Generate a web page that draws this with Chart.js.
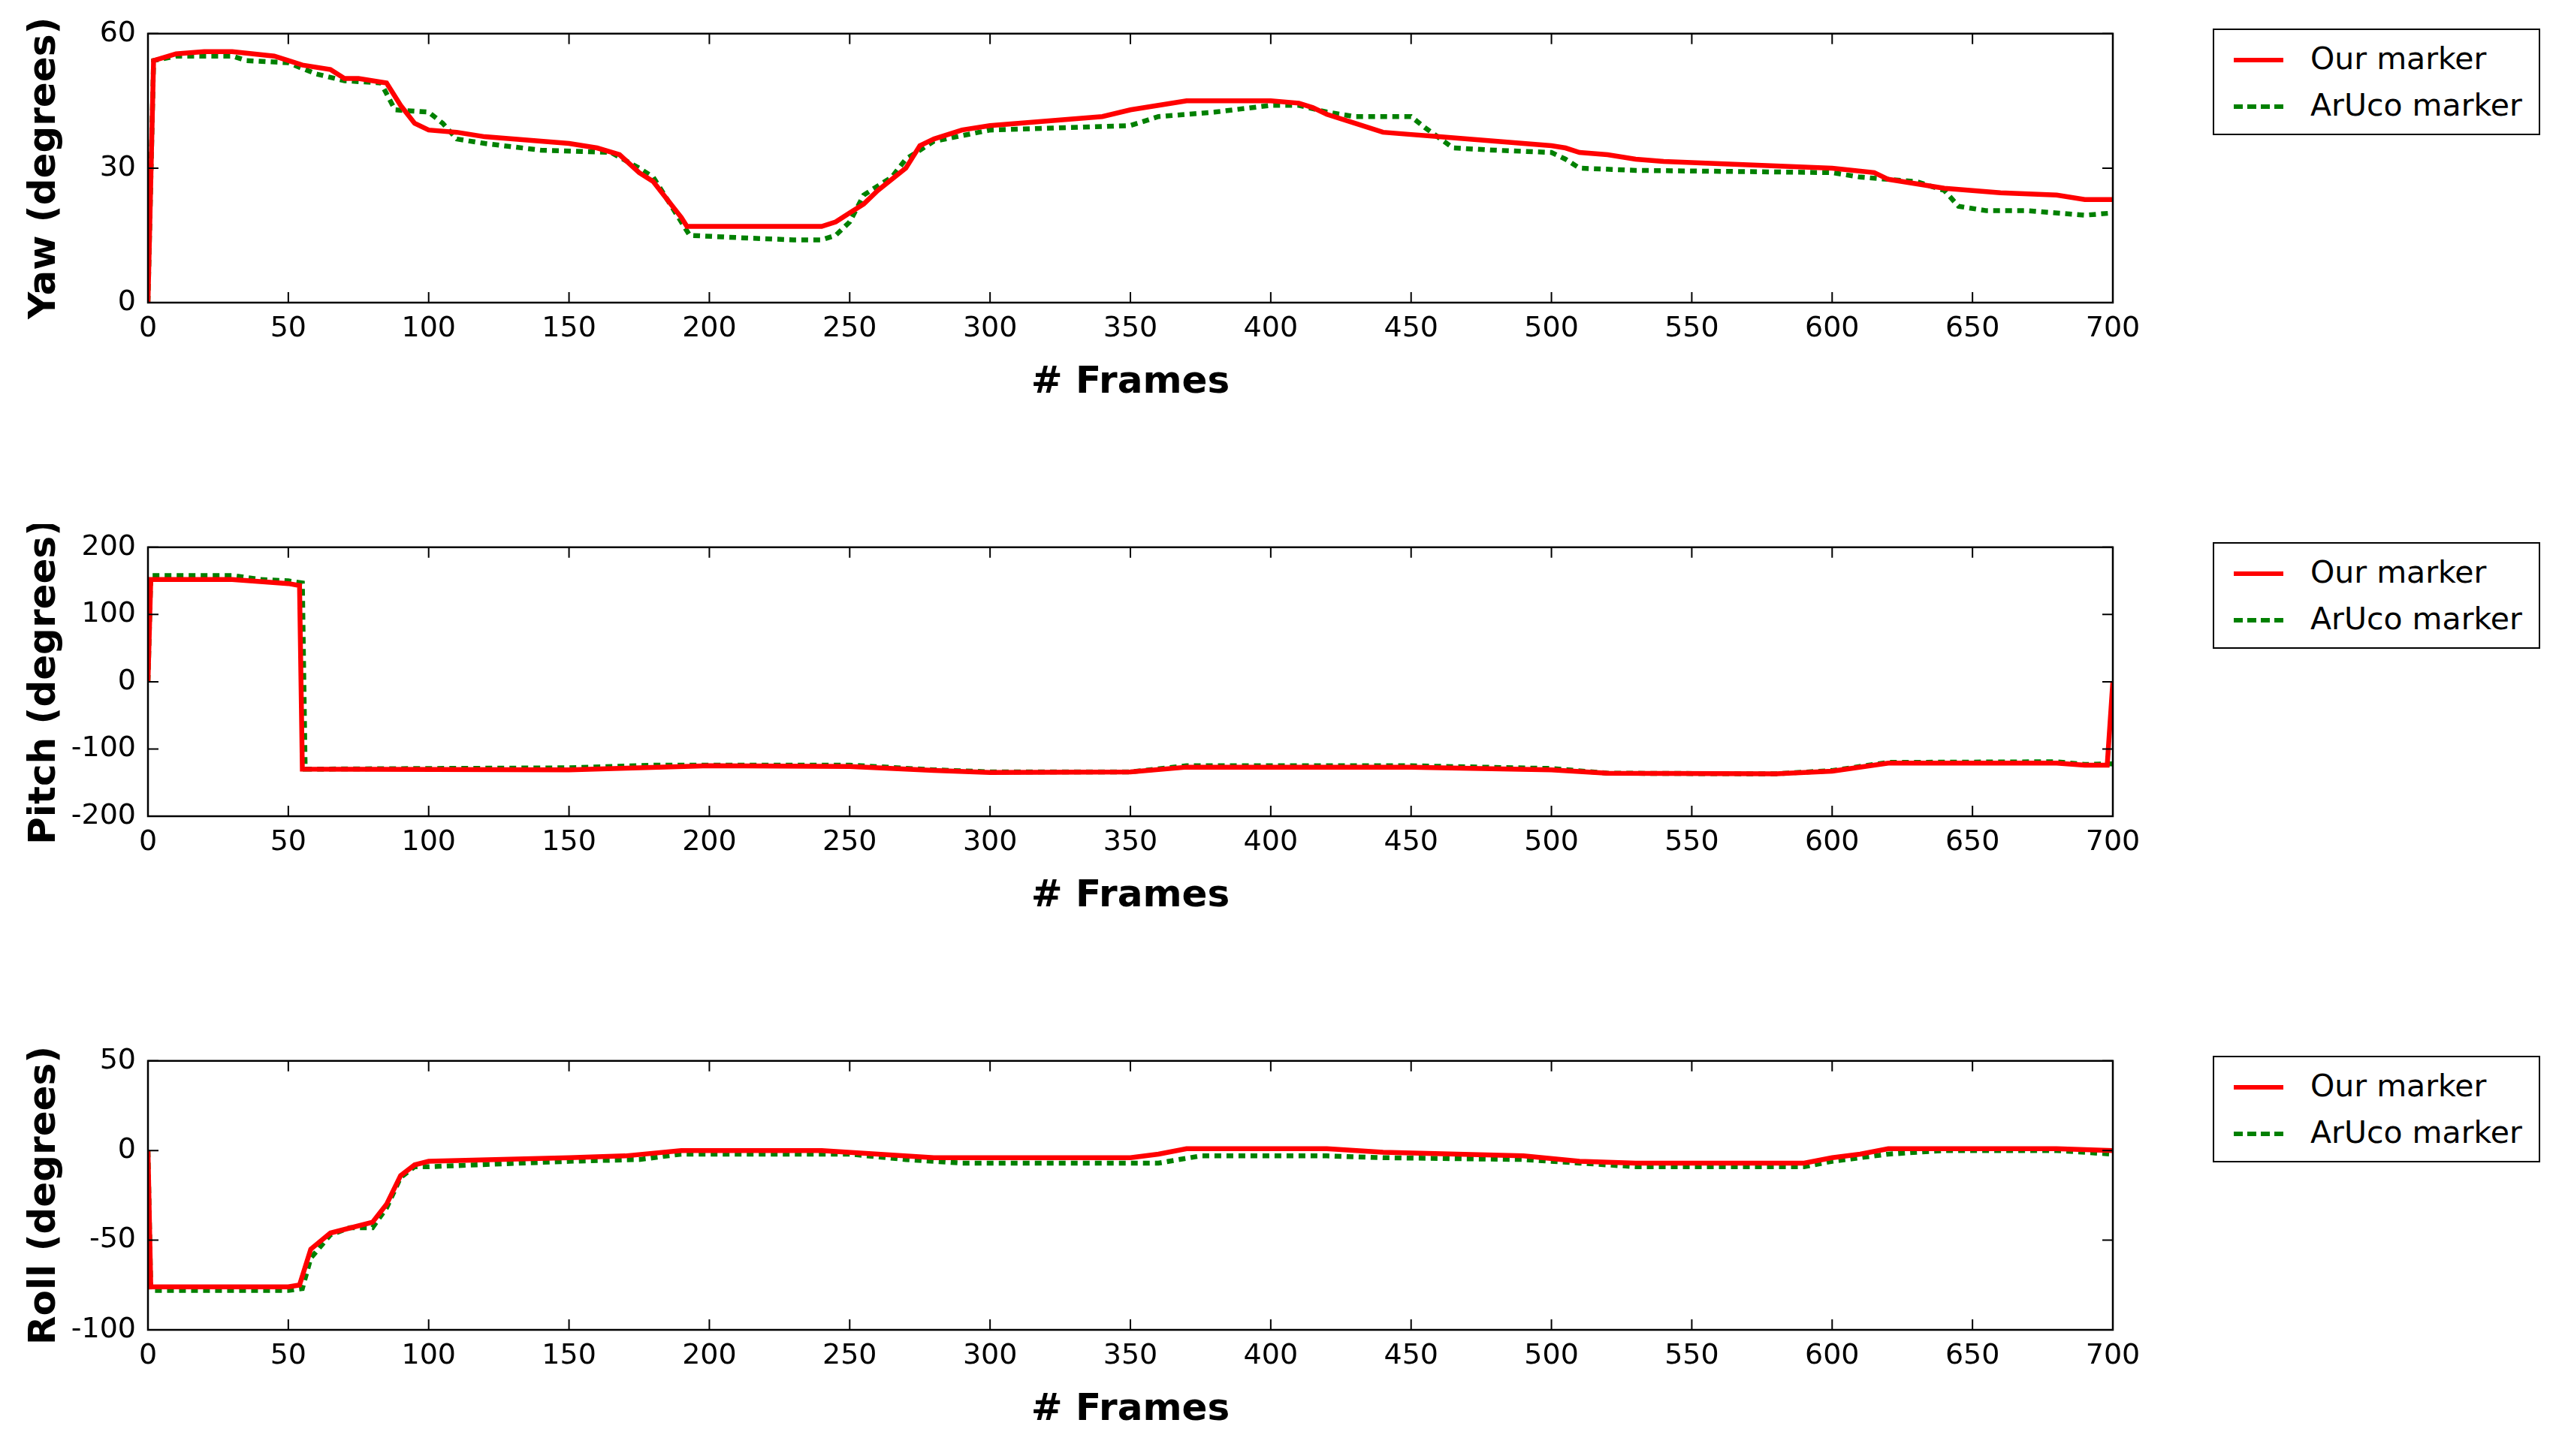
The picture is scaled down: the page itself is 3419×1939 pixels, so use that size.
<!DOCTYPE html>
<html><head><meta charset="utf-8">
<script src="https://cdn.jsdelivr.net/npm/chart.js@4/dist/chart.umd.min.js"></script>
<style>
body{margin:0;background:#fff;width:3419px;height:1939px;position:relative;overflow:hidden;font-family:"DejaVu Sans",sans-serif}
canvas{position:absolute;left:0}
.leg{position:absolute;left:2946px;width:432px;height:138px;border:2px solid #000;background:#fff}
.row{position:absolute;left:0;height:50px;font-size:41px;line-height:50px}
.row span{position:absolute;left:128px;white-space:nowrap}
.ln{position:absolute;left:26px;top:24px;width:66px;height:0}
</style></head><body>
<script>
const frameTicks=[0,50,100,150,200,250,300,350,400,450,500,550,600,650,700];
const yawTicks=[0,30,60];
const pitchTicks=[-200,-100,0,100,200];
const rollTicks=[-100,-50,0,50];
const yawOur=[[0,0],[2,54],[10,55.5],[20,56],[30,56],[45,55],[50,54],[55,53],[65,52],[70,50],[75,50],[85,49],[90,44],[95,40],[100,38.5],[110,38],[120,37],[130,36.5],[140,36],[150,35.5],[160,34.5],[168,33],[175,29],[180,27],[185,23],[190,19],[192,17],[200,17],[220,17],[240,17],[245,18],[250,20],[255,22],[260,25],[270,30],[275,35],[280,36.5],[290,38.5],[300,39.5],[320,40.5],[340,41.5],[350,43],[360,44],[370,45],[380,45],[400,45],[410,44.5],[415,43.5],[420,42],[430,40],[440,38],[450,37.5],[460,37],[480,36],[500,35],[505,34.5],[510,33.5],[520,33],[530,32],[540,31.5],[560,31],[580,30.5],[600,30],[615,29],[620,27.5],[640,25.5],[660,24.5],[680,24],[690,23],[700,23]];
const yawAruco=[[0,0],[2,54],[10,55],[30,55],[35,54],[50,53.5],[60,51],[70,49.5],[83,49],[88,43],[100,42.5],[105,40],[110,36.5],[120,35.5],[140,34],[165,33.5],[175,30],[180,28],[185,23],[190,18],[193,15],[210,14.5],[230,14],[240,14],[245,15],[250,18],[255,24],[265,28],[270,32],[280,36],[300,38.5],[350,39.5],[360,41.5],[380,42.5],[400,44],[410,44],[420,42.5],[430,41.5],[450,41.5],[455,39],[465,34.5],[480,34],[500,33.5],[505,32],[510,30],[530,29.5],[600,29],[610,28],[620,27.5],[630,27],[640,25],[645,21.5],[655,20.5],[670,20.5],[690,19.5],[700,20]];
const pitchOur=[[0,0],[1,152],[30,152],[50,146],[54,143],[55,-130],[150,-131],[200,-125],[250,-126],[280,-132],[300,-135],[350,-134],[370,-127],[450,-127],[500,-131],[520,-136],[580,-137],[600,-133],[620,-121],[680,-121],[690,-124],[698,-124],[700,0]];
const pitchAruco=[[0,0],[1,158],[30,158],[40,152],[50,150],[55,147],[56,-130],[150,-128],[180,-124],[250,-124],[280,-131],[300,-134],[350,-134],[370,-125],[450,-125],[500,-129],[520,-136],[580,-137],[600,-132],[620,-120],[680,-119],[690,-123],[700,-122]];
const rollOur=[[0,0],[1,-76],[50,-76],[54,-75],[58,-55],[65,-46],[70,-44],[80,-40],[85,-30],[90,-14],[95,-8],[100,-6],[150,-4],[170,-3],[190,0],[240,0],[260,-2],[280,-4],[350,-4],[360,-2],[370,1],[420,1],[440,-1],[490,-3],[510,-6],[530,-7],[590,-7],[600,-4],[610,-2],[620,1],[680,1],[700,0]];
const rollAruco=[[0,0],[1,-78],[50,-78],[55,-77],[58,-60],[65,-47],[72,-43],[80,-43],[85,-32],[90,-15],[95,-9],[100,-9],[150,-6],[175,-5],[190,-2],[250,-2],[270,-5],[290,-7],[360,-7],[375,-3],[420,-3],[440,-4],[490,-5],[510,-7],[530,-9],[590,-9],[600,-6],[620,-2],[640,0],[680,0],[700,-2]];
const seriesNames=["Our marker","ArUco marker"];

const frame={id:'frame',afterDraw(c){const a=c.chartArea,x=c.ctx;x.save();x.strokeStyle='#000';x.lineWidth=2.5;x.strokeRect(a.left,a.top,a.right-a.left,a.bottom-a.top);
 const L=14;x.lineWidth=2;x.beginPath();
 c.scales.x.ticks.forEach(t=>{const p=c.scales.x.getPixelForValue(t.value);x.moveTo(p,a.bottom);x.lineTo(p,a.bottom-L);x.moveTo(p,a.top);x.lineTo(p,a.top+L);});
 c.scales.y.ticks.forEach(t=>{const p=c.scales.y.getPixelForValue(t.value);x.moveTo(a.left,p);x.lineTo(a.left+L,p);x.moveTo(a.right,p);x.lineTo(a.right-L,p);});
 x.stroke();x.restore();}};

function make(top,ours,aruco,ticks,title){
 const cv=document.createElement('canvas');cv.width=2900;cv.height=530;cv.style.top=(top-30)+'px';cv.style.width='2900px';cv.style.height='530px';document.body.appendChild(cv);
 const P=a=>a.map(p=>({x:p[0],y:p[1]}));
 new Chart(cv,{type:'line',plugins:[frame],data:{datasets:[
  {label:seriesNames[0],data:P(ours),borderColor:'#ff0000',borderWidth:6.5,pointRadius:0,tension:0},
  {label:seriesNames[1],data:P(aruco),borderColor:'#008000',borderWidth:6.5,borderDash:[9,7],pointRadius:0,tension:0}]},
 options:{responsive:false,animation:false,devicePixelRatio:1,layout:{padding:{top:12,right:87,left:0,bottom:0}},
  plugins:{legend:{display:false},tooltip:{enabled:false}},
  scales:{x:{type:'linear',min:0,max:700,afterBuildTicks:s=>{s.ticks=frameTicks.map(v=>({value:v}))},afterFit:s=>{s.height=141},
    grid:{display:false},border:{display:false},ticks:{color:'#000',font:{family:'DejaVu Sans',size:38},padding:4,maxRotation:0},
    title:{display:true,text:'# Frames',color:'#000',font:{family:'DejaVu Sans',size:50,weight:'bold'},padding:{top:0}}},
   y:{min:ticks[0],max:ticks[ticks.length-1],afterBuildTicks:s=>{s.ticks=ticks.map(v=>({value:v}))},afterFit:s=>{s.width=197},
    grid:{display:false},border:{display:false},ticks:{color:'#000',font:{family:'DejaVu Sans',size:38},padding:8},
    title:{display:true,text:title,color:'#000',font:{family:'DejaVu Sans',size:50,weight:'bold'},padding:{bottom:0,top:30}}}}}});
 const lg=document.createElement('div');lg.className='leg';lg.style.top=(top-6)+'px';
 lg.innerHTML=`<div class="row" style="top:13px;width:100%"><div class="ln" style="border-top:6px solid #ff0000"></div><span>${seriesNames[0]}</span></div>
 <div class="row" style="top:75px;width:100%"><div class="ln" style="border-top:6px dashed #008000"></div><span>${seriesNames[1]}</span></div>`;
 document.body.appendChild(lg);
}
make(44,yawOur,yawAruco,yawTicks,'Yaw (degrees)');
make(728,pitchOur,pitchAruco,pitchTicks,'Pitch (degrees)');
make(1412,rollOur,rollAruco,rollTicks,'Roll (degrees)');
</script></body></html>
